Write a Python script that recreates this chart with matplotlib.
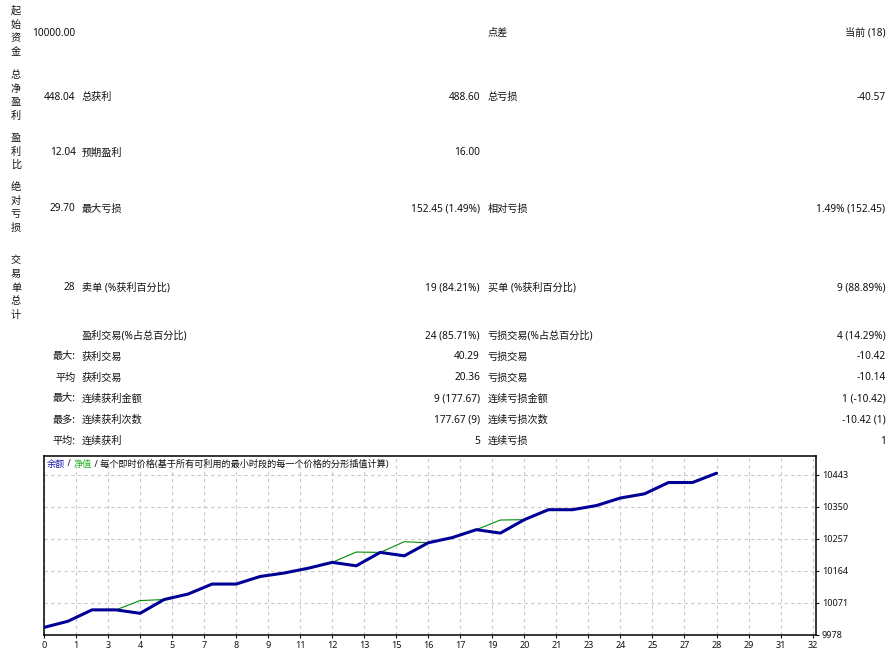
import matplotlib
matplotlib.use("Agg")
import matplotlib.pyplot as plt

plt.rcParams['font.family'] = ['Noto Sans', 'Noto Sans CJK SC']

# ---- report table ----
side_labels = ['起始资金', '总净盈利', '盈利比', '绝对亏损', '交易单总计']
col_a = ['10000.00', '448.04', '12.04', '29.70', '28', '', '最大:', '平均', '最大:', '最多:', '平均:']
col_b = ['', '总获利', '预期盈利', '最大亏损', '卖单 (%获利百分比)', '盈利交易(%占总百分比)',
         '获利交易', '获利交易', '连续获利金额', '连续获利次数', '连续获利']
col_c = ['', '488.60', '16.00', '152.45 (1.49%)', '19 (84.21%)', '24 (85.71%)',
         '40.29', '20.36', '9 (177.67)', '177.67 (9)', '5']
col_d = ['点差', '总亏损', '', '相对亏损', '买单 (%获利百分比)', '亏损交易(%占总百分比)',
         '亏损交易', '亏损交易', '连续亏损金额', '连续亏损次数', '连续亏损']
col_e = ['当前 (18)', '-40.57', '', '1.49% (152.45)', '9 (88.89%)', '4 (14.29%)',
         '-10.42', '-10.14', '1 (-10.42)', '-10.42 (1)', '1']

# ---- balance / equity curve ----
trades = list(range(29))
balance = [10000, 10018, 10051, 10051, 10041, 10081, 10097, 10126, 10126, 10148,
           10158, 10172, 10189, 10179, 10218, 10208, 10246, 10261, 10284, 10274,
           10313, 10342, 10342, 10354, 10376, 10388, 10421, 10421, 10448]
equity = [10000, 10018, 10051, 10051, 10078, 10081, 10097, 10126, 10126, 10148,
          10158, 10172, 10189, 10219, 10218, 10249, 10246, 10261, 10284, 10312,
          10313, 10342, 10342, 10354, 10376, 10388, 10421, 10421, 10448]
y_ticks = [9978, 10071, 10164, 10257, 10350, 10443]
x_tick_labels = [0, 1, 3, 4, 5, 7, 8, 9, 11, 12, 13, 15, 16, 17, 19, 20,
                 21, 23, 24, 25, 27, 28, 29, 31, 32]

W, H = 893, 653
fig = plt.figure(figsize=(W / 100, H / 100), dpi=100)

def px(x, y):
    return x / W, 1 - y / H

row_y = [33, 97, 153, 209, 288, 336, 357, 378, 399, 420, 441]
side_y = [32, 96, 152, 208, 288]
fs = 7.3
tc = '#111111'

for lab, y in zip(side_labels, side_y):
    fig.text(*px(16, y), '\n'.join(lab), ha='center', va='center',
             fontsize=fs, color=tc, linespacing=1.35)

for i, y in enumerate(row_y):
    fig.text(*px(75.5, y), col_a[i], ha='right', va='center', fontsize=fs, color=tc)
    fig.text(*px(82, y), col_b[i], ha='left', va='center', fontsize=fs, color=tc)
    fig.text(*px(480, y), col_c[i], ha='right', va='center', fontsize=fs, color=tc)
    fig.text(*px(487.5, y), col_d[i], ha='left', va='center', fontsize=fs, color=tc)
    fig.text(*px(885.5, y), col_e[i], ha='right', va='center', fontsize=fs, color=tc)

# chart
ax = fig.add_axes([44 / W, (H - 635) / H, 771.7 / W, 179 / H])
ax.plot(trades, equity, color='#008c00', lw=0.8, zorder=3)
ax.plot(trades, balance, color='#000096', lw=2.2, zorder=4,
        solid_joinstyle='round', solid_capstyle='round')

ax.set_xlim(0, 32.13)
ax.set_ylim(9978, 10498)
ax.set_yticks(y_ticks)
ax.set_yticklabels([str(v) for v in y_ticks])
ax.set_xticks([i * 4 / 3 for i in range(len(x_tick_labels))])
ax.set_xticklabels([str(v) for v in x_tick_labels])
ax.yaxis.tick_right()
ax.tick_params(axis='both', labelsize=6.5, length=2.5, width=0.8, pad=2, colors='#111111')
ax.grid(True, color='#c8c8c8', lw=0.8, linestyle=(0, (3, 3)))
for s in ax.spines.values():
    s.set_linewidth(1.1)
    s.set_color('black')

# header line with coloured parts
parts = [('余额', '#1c1cb4'), (' / ', '#111111'), ('净值', '#22b422'),
         (' / 每个即时价格(基于所有可利用的最小时段的每一个价格的分形插值计算)', '#111111')]
prev = ax.text(3 / 771.7, 1 - 8 / 179, parts[0][0], transform=ax.transAxes,
               ha='left', va='center', fontsize=6.6, color=parts[0][1])
for txt, col in parts[1:]:
    prev = ax.annotate(txt, xy=(1, 0.5), xycoords=prev, ha='left', va='center',
                       fontsize=6.6, color=col)

fig.savefig('out.png', dpi=100)
